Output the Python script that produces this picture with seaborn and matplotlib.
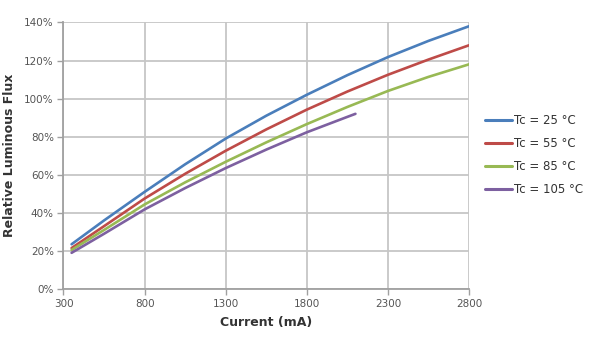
import numpy as np
import pandas as pd
import matplotlib
matplotlib.use("Agg")
import matplotlib.pyplot as plt
import seaborn as sns

# Relative luminous flux (%) versus drive current (mA) at several case temperatures
current = [350, 550, 800, 1050, 1300, 1550, 1800, 2050, 2300, 2550, 2800]
current_105 = [350, 550, 800, 1050, 1300, 1550, 1800, 2050, 2100]
flux_25 = [23.5, 36.0, 51.0, 65.5, 79.0, 91.0, 102.0, 112.3, 121.8, 130.3, 138.0]
flux_55 = [21.5, 33.0, 47.5, 60.5, 72.6, 83.8, 94.2, 103.7, 112.5, 120.5, 128.0]
flux_85 = [20.5, 31.0, 44.4, 56.0, 66.8, 77.0, 86.6, 95.6, 104.0, 111.4, 118.0]
flux_105 = [19.0, 29.0, 41.8, 53.0, 63.5, 73.2, 82.3, 90.4, 92.0]
series_names = ["Tc = 25 °C", "Tc = 55 °C", "Tc = 85 °C", "Tc = 105 °C"]
x_ticks = [300, 800, 1300, 1800, 2300, 2800]
y_ticks = [0, 20, 40, 60, 80, 100, 120, 140]

frames = []
for name, xs, ys in zip(series_names,
                        [current, current, current, current_105],
                        [flux_25, flux_55, flux_85, flux_105]):
    frames.append(pd.DataFrame({"Current (mA)": xs, "Flux": ys, "Series": name}))
df = pd.concat(frames, ignore_index=True)

sns.set_theme(style="white")
plt.rcParams["font.family"] = ["DejaVu Sans"]

colors = ["#4a7ebb", "#be4b48", "#98b954", "#7d60a0"]

fig = plt.figure(figsize=(5.95, 3.4), dpi=100)
ax = fig.add_axes([0.1067, 0.15, 0.6815, 0.784])

sns.lineplot(data=df, x="Current (mA)", y="Flux", hue="Series",
             hue_order=series_names, palette=colors, linewidth=1.9,
             ax=ax, legend=False, sort=False)

ax.set_xlim(300, 2800)
ax.set_ylim(0, 140)
ax.set_xticks(x_ticks)
ax.set_xticklabels([str(t) for t in x_ticks])
ax.set_yticks(y_ticks)
ax.set_yticklabels([f"{t}%" for t in y_ticks])

grid_color = "#c6c6c6"
ax.grid(True, color=grid_color, linewidth=1.3)
ax.set_axisbelow(True)
for side in ["top", "right"]:
    ax.spines[side].set_visible(False)
for side in ["left", "bottom"]:
    ax.spines[side].set_color("#a0a0a0")
    ax.spines[side].set_linewidth(1.3)

ax.tick_params(axis="both", which="major", direction="out", length=4,
               width=1.0, color="#a0a0a0", labelsize=7.5, labelcolor="#555555",
               pad=3, bottom=True, left=True)

ax.set_xlabel("Current (mA)", fontsize=9, fontweight="bold", color="#333333", labelpad=5)
ax.set_ylabel("Relative Luminous Flux", fontsize=9, fontweight="bold", color="#333333", labelpad=6)

handles = [plt.Line2D([0], [0], color=c, linewidth=2.2) for c in colors]
fig.legend(handles, series_names, loc="upper left", bbox_to_anchor=(0.797, 0.697),
           frameon=False, fontsize=8.5, handlelength=2.3, handletextpad=0.15,
           labelspacing=0.85, labelcolor="#333333")

fig.savefig("out.png", dpi=100, facecolor="white")
